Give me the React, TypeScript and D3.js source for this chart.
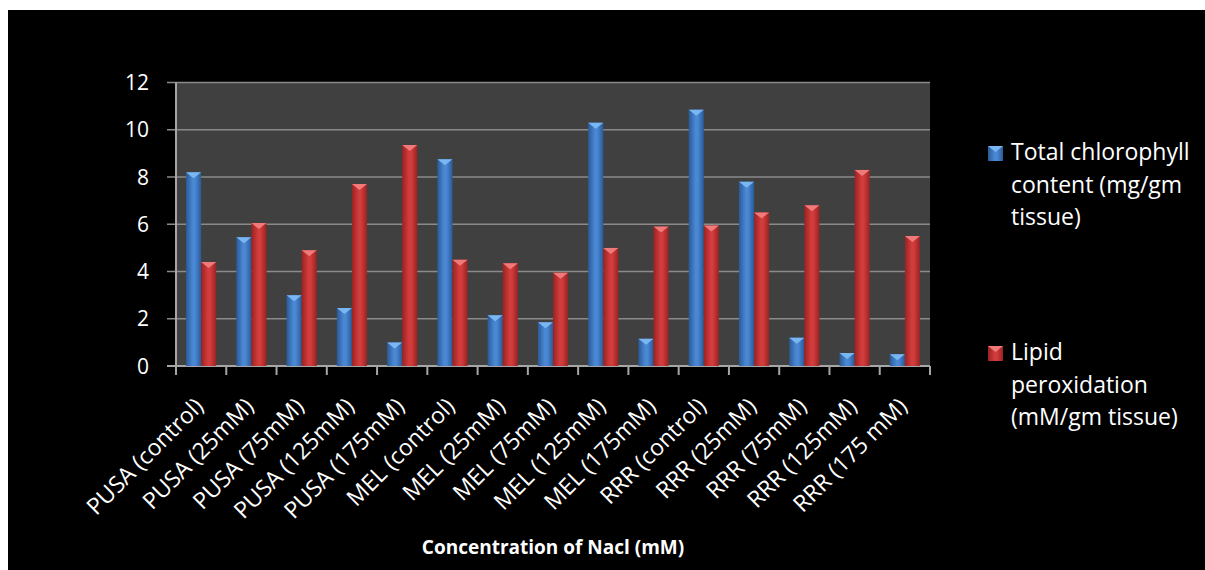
import * as d3 from "d3";

const categories = [
  "PUSA (control)",
  "PUSA (25mM)",
  "PUSA (75mM)",
  "PUSA (125mM)",
  "PUSA (175mM)",
  "MEL (control)",
  "MEL (25mM)",
  "MEL (75mM)",
  "MEL (125mM)",
  "MEL (175mM)",
  "RRR (control)",
  "RRR (25mM)",
  "RRR (75mM)",
  "RRR (125mM)",
  "RRR (175 mM)",
];

const chlorophyll = [8.2, 5.45, 3.0, 2.45, 1.0, 8.75, 2.15, 1.85, 10.3, 1.15, 10.85, 7.8, 1.2, 0.55, 0.5];
const lipid = [4.4, 6.05, 4.9, 7.7, 9.35, 4.5, 4.35, 3.95, 5.0, 5.9, 5.95, 6.5, 6.8, 8.3, 5.5];

const yTicks = [0, 2, 4, 6, 8, 10, 12];

const seriesNames = [
  ["Total chlorophyll", "content (mg/gm", "tissue)"],
  ["Lipid", "peroxidation", "(mM/gm tissue)"],
];

const FONT = "'Open Sans', Lato, sans-serif";

export default function App() {
  const width = 1205;
  const height = 570;
  const plot = { left: 176, right: 930, top: 82.5, bottom: 366 };

  const x = d3
    .scaleBand<string>()
    .domain(categories)
    .range([plot.left, plot.right])
    .paddingInner(0.4)
    .paddingOuter(0.2);
  const sub = d3
    .scaleBand<number>()
    .domain([0, 1])
    .range([0, x.bandwidth()]);
  const y = d3.scaleLinear().domain([0, 12]).range([plot.bottom, plot.top]);

  const step = x.step();
  const boundaries = d3.range(categories.length + 1).map((i) => plot.left + i * step);

  const series = [
    { values: chlorophyll, grad: "gBlue", top: "#7ab6f2" },
    { values: lipid, grad: "gRed", top: "#f07a7a" },
  ];

  return (
    <svg
      width={width}
      height={height}
      style={{ position: "absolute", left: 0, top: 0, display: "block" }}
    >
      <defs>
        <linearGradient id="gBlue" x1="0" x2="1" y1="0" y2="0">
          <stop offset="0" stopColor="#2a5a98" />
          <stop offset="0.45" stopColor="#4a88d4" />
          <stop offset="0.6" stopColor="#4a88d4" />
          <stop offset="1" stopColor="#2a5a98" />
        </linearGradient>
        <linearGradient id="gRed" x1="0" x2="1" y1="0" y2="0">
          <stop offset="0" stopColor="#9a2222" />
          <stop offset="0.45" stopColor="#d23c3c" />
          <stop offset="0.6" stopColor="#d23c3c" />
          <stop offset="1" stopColor="#9a2222" />
        </linearGradient>
      </defs>
      <rect x={0} y={0} width={width} height={height} fill="#fff" />
      <rect x={8} y={10} width={width - 8} height={height - 10} fill="#000" />

      {/* plot area */}
      <rect
        x={plot.left}
        y={plot.top}
        width={plot.right - plot.left}
        height={plot.bottom - plot.top}
        fill="#404040"
      />
      {yTicks.map((t) => (
        <g key={t}>
          <line
            x1={plot.left - 9}
            x2={plot.right}
            y1={y(t)}
            y2={y(t)}
            stroke={t === 0 ? "#a6a6a6" : "#8a8a8a"}
            strokeWidth={t === 0 ? 2 : 1.5}
          />
          <text
            x={149}
            y={y(t)}
            dy="0.36em"
            textAnchor="end"
            fill="#fff"
            fontFamily={FONT}
            fontSize={21}
          >
            {t}
          </text>
        </g>
      ))}
      <line x1={plot.left} x2={plot.left} y1={plot.top} y2={plot.bottom + 9} stroke="#a6a6a6" strokeWidth={2} />
      {boundaries.slice(1).map((bx, i) => (
        <line key={i} x1={bx} x2={bx} y1={plot.bottom} y2={plot.bottom + 9} stroke="#a6a6a6" strokeWidth={2} />
      ))}

      {/* bars */}
      {series.map((s, si) =>
        categories.map((c, i) => {
          const bx = (x(c) ?? 0) + (sub(si) ?? 0);
          const bw = sub.bandwidth();
          const by = y(s.values[i]);
          const tri = Math.min(6, plot.bottom - by);
          return (
            <g key={`${si}-${i}`}>
              <rect x={bx} y={by} width={bw} height={plot.bottom - by} fill={`url(#${s.grad})`} />
              <path
                d={`M${bx},${by}L${bx + bw},${by}L${bx + bw / 2},${by + tri}Z`}
                fill={s.top}
              />
            </g>
          );
        })
      )}

      {/* category labels */}
      {categories.map((c) => {
        const cx = (x(c) ?? 0) + x.bandwidth() / 2 - 2;
        const cy = plot.bottom + 36;
        return (
          <text
            key={c}
            transform={`translate(${cx},${cy}) rotate(-45)`}
            textAnchor="end"
            dy="0.35em"
            fill="#fff"
            fontFamily={FONT}
            fontSize={23}
          >
            {c}
          </text>
        );
      })}

      <text
        x={(plot.left + plot.right) / 2}
        y={554}
        textAnchor="middle"
        fill="#fff"
        fontFamily={FONT}
        fontSize={19}
        fontWeight="bold"
      >
        Concentration of Nacl (mM)
      </text>

      {/* legend */}
      {seriesNames.map((lines, si) => {
        const top = si === 0 ? 160 : 360;
        return (
          <g key={si}>
            <rect x={988} y={top - 14} width={15} height={15} fill={`url(#${series[si].grad})`} />
            <path d={`M988,${top - 14}L1003,${top - 14}L995.5,${top - 8}Z`} fill={series[si].top} />
            {lines.map((l, li) => (
              <text key={li} x={1011} y={top + li * 32.5} fill="#fff" fontFamily={FONT} fontSize={23}>
                {l}
              </text>
            ))}
          </g>
        );
      })}
    </svg>
  );
}
